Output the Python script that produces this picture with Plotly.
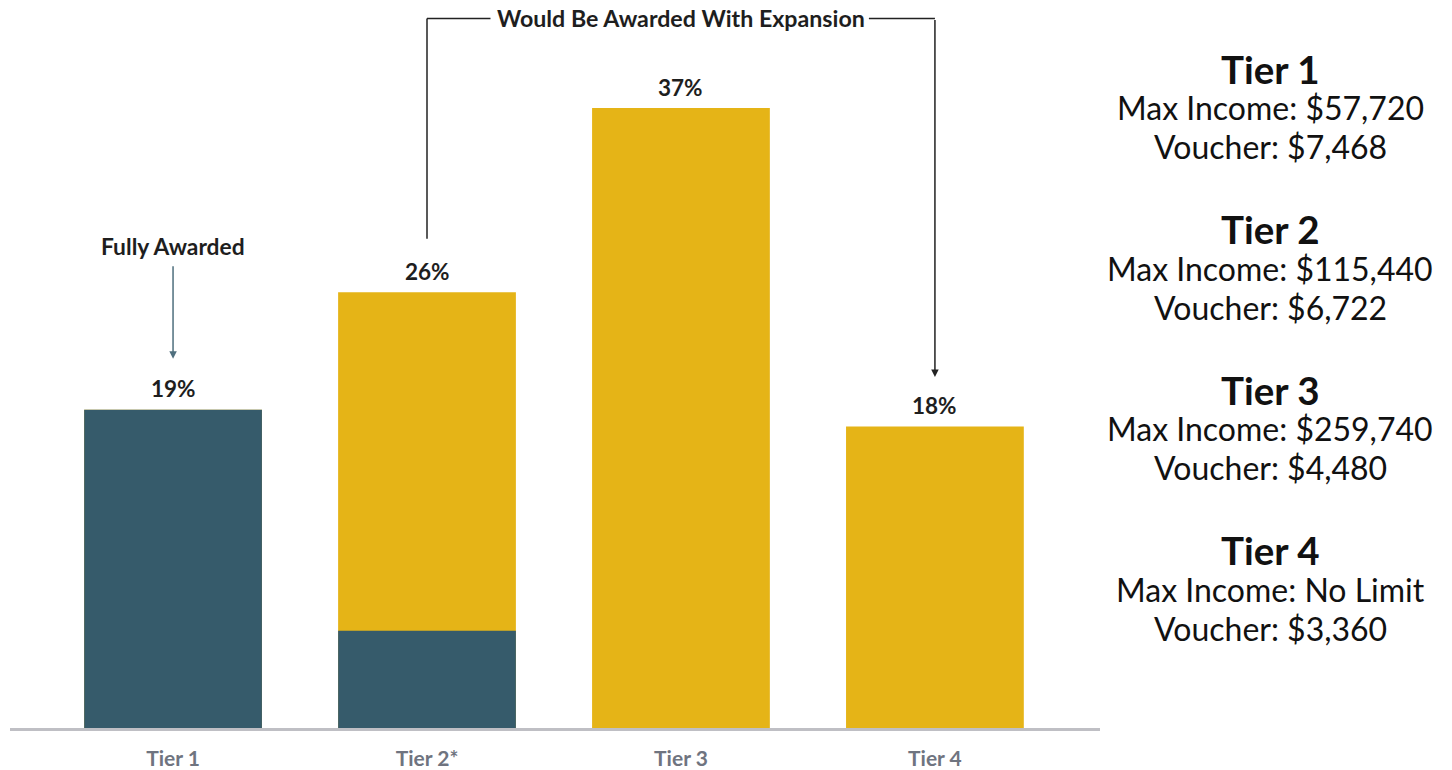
import plotly.graph_objects as go

categories = ["Tier 1", "Tier 2*", "Tier 3", "Tier 4"]
total_pct = [19, 26, 37, 18]            # yellow (total) bar heights, %
awarded_pct = [19, 5.8, 0, 0]           # dark (fully awarded) portion, %
value_labels = ["19%", "26%", "37%", "18%"]

side_titles = ["Tier 1", "Tier 2", "Tier 3", "Tier 4"]
side_income = ["Max Income: $57,720", "Max Income: $115,440", "Max Income: $259,740", "Max Income: No Limit"]
side_voucher = ["Voucher: $7,468", "Voucher: $6,722", "Voucher: $4,480", "Voucher: $3,360"]

DARK = "#365B6B"
YELLOW = "#E5B417"
FONT = "Lato"

fig = go.Figure()
fig.add_trace(go.Bar(x=categories, y=total_pct, marker=dict(color=YELLOW, line=dict(width=0)),
                     hoverinfo="skip"))
fig.add_trace(go.Bar(x=categories, y=awarded_pct, marker=dict(color=DARK, line=dict(width=0)),
                     hoverinfo="skip"))

# value labels
for c, v, t in zip(categories, total_pct, value_labels):
    fig.add_annotation(x=c, y=v, text="<b>%s</b>" % t, showarrow=False, yanchor="middle", yshift=21,
                       font=dict(family=FONT, size=22.5, color="#1E1E1E"))

# Fully Awarded
fig.add_annotation(x=categories[0], y=total_pct[0], yshift=51, text="", showarrow=True,
                   ax=0, ay=-94, arrowhead=2, arrowsize=1, arrowwidth=1.5, arrowcolor="#4F6F7E")
fig.add_annotation(x=categories[0], y=total_pct[0], yshift=164, yanchor="middle", text="<b>Fully Awarded</b>",
                   showarrow=False, font=dict(family=FONT, size=22.8, color="#1E1E1E"))

# Bracket "Would Be Awarded With Expansion"
ytop = 42.35
ylow = 29.2
fig.add_shape(type="line", xref="x", yref="y", x0=1, x1=1, y0=ylow, y1=ytop, line=dict(color="#222", width=1.5))
fig.add_shape(type="line", xref="x", yref="y", x0=1, x1=1.25, y0=ytop, y1=ytop, line=dict(color="#222", width=1.5))
fig.add_shape(type="line", xref="x", yref="y", x0=2.74, x1=3, y0=ytop, y1=ytop, line=dict(color="#222", width=1.5))
fig.add_annotation(x=3, y=20.95, text="", showarrow=True, axref="x", ayref="y", ax=3, ay=ytop,
                   arrowhead=2, arrowsize=1, arrowwidth=1.5, arrowcolor="#222")
fig.add_annotation(x=categories[2], y=ytop, yanchor="middle", text="<b>Would Be Awarded With Expansion</b>",
                   showarrow=False, font=dict(family=FONT, size=23.2, color="#1E1E1E"))

# Right side text
def ypaper(py):
    return (730 - py) / 730.0
def xpaper(px):
    return (px - 10) / 1090.0

for i in range(4):
    base = 69 + i * 161
    fig.add_annotation(xref="paper", yref="paper", x=xpaper(1270), y=ypaper(base), xanchor="center", yanchor="middle",
                       text="<b>%s</b>" % side_titles[i],
                       showarrow=False, font=dict(family=FONT, size=38.5, color="#111111"))
    fig.add_annotation(xref="paper", yref="paper", x=xpaper(1270), y=ypaper(base + 39), xanchor="center", yanchor="middle",
                       text=side_income[i],
                       showarrow=False, font=dict(family=FONT, size=32, color="#111111"))
    fig.add_annotation(xref="paper", yref="paper", x=xpaper(1270), y=ypaper(base + 78), xanchor="center", yanchor="middle",
                       text=side_voucher[i],
                       showarrow=False, font=dict(family=FONT, size=32, color="#111111"))

fig.update_layout(
    width=1452, height=770,
    margin=dict(l=10, r=352, t=0, b=40),
    barmode="overlay", bargap=0.3,
    plot_bgcolor="white", paper_bgcolor="white",
    showlegend=False,
    font=dict(family=FONT),
    xaxis=dict(range=[-0.642, 3.65], showline=True, linecolor="#BFBFC4", linewidth=3,
               ticks="", ticklabelstandoff=10, showgrid=False, zeroline=False,
               tickfont=dict(family=FONT, size=21, color="#6F7480"),
               tickvals=categories, ticktext=["<b>%s</b>" % c for c in categories]),
    yaxis=dict(range=[0, 43.45], visible=False, showgrid=False, zeroline=False),
)

fig.write_html("out.html", config={"displayModeBar": False},
               post_script="document.body.style.margin='0';document.body.style.overflow='hidden';")
